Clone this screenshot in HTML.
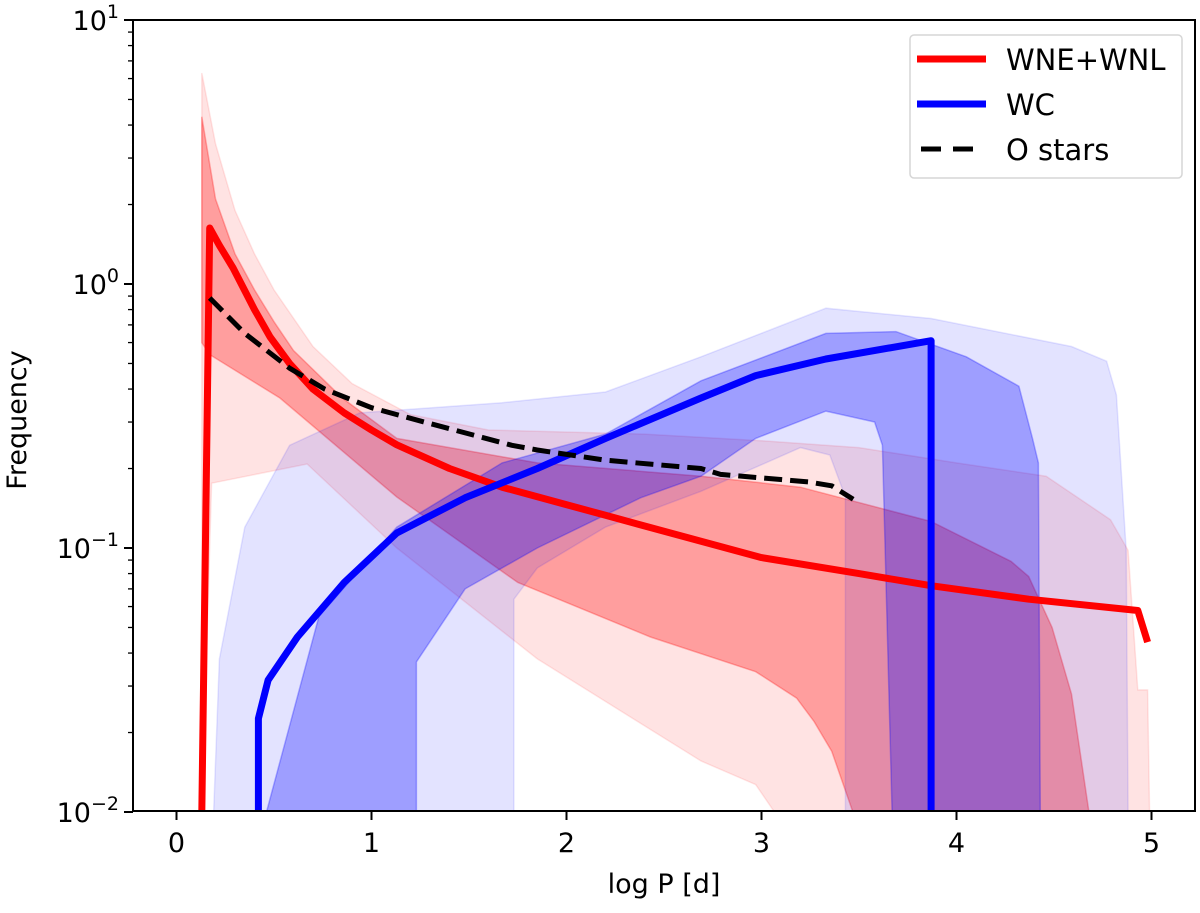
<!DOCTYPE html>
<html><head><meta charset="utf-8"><style>
html,body{margin:0;padding:0;background:#fff;}
svg{display:block;font-family:"DejaVu Sans","Liberation Sans",sans-serif;}
</style></head><body>
<svg id="chart" width="1200" height="913" viewBox="0 0 1200 913" xmlns="http://www.w3.org/2000/svg">
<g id="bands"></g>
<g id="lines"></g>
<g id="axes"></g>
<g id="legend"></g>
</svg>
<script>
const xTicks = [0,1,2,3,4,5];
const yTickExps = [1,0,-1,-2];
const redX = [0.13,0.17,0.22,0.29,0.4,0.48,0.58,0.7,0.86,1.0,1.13,1.4,1.67,2.2,2.69,3.0,3.5,3.87,4.37,4.93,4.98];
const redY = [0.0095,1.63,1.4,1.15,0.8,0.63,0.5,0.4,0.325,0.28,0.246,0.2,0.17,0.133,0.106,0.092,0.08,0.072,0.064,0.058,0.044];
const blueX = [0.42,0.42,0.47,0.62,0.86,1.13,1.48,1.85,2.2,2.69,2.97,3.33,3.87,3.87];
const blueY = [0.0095,0.0226,0.0316,0.046,0.074,0.114,0.155,0.2,0.26,0.37,0.45,0.52,0.61,0.0095];
const oX = [0.17,0.35,0.58,0.76,1.0,1.27,1.72,1.85,2.2,2.69,2.79,3.24,3.36,3.47];
const oY = [0.885,0.65,0.48,0.4,0.34,0.3,0.245,0.235,0.215,0.2,0.19,0.178,0.172,0.153];
// red outer band
const redOutUpX = [0.13,0.2,0.3,0.4,0.5,0.7,0.9,1.2,1.6,2.4,3.0,3.5,4.0,4.46,4.79,4.88,4.93,4.98,4.99];
const redOutUpY = [6.3,3.4,1.9,1.3,0.95,0.58,0.42,0.32,0.28,0.27,0.255,0.24,0.21,0.187,0.128,0.098,0.029,0.029,0.0095];
const redOutLoX = [0.13,0.18,0.67,1.13,1.85,2.69,2.97,3.07];
const redOutLoY = [0.0095,0.176,0.208,0.1,0.038,0.0156,0.0127,0.0095];
// red inner band
const redInUpX = [0.13,0.2,0.3,0.4,0.5,0.6,0.85,1.13,1.85,2.69,3.2,3.87,4.28,4.37,4.49,4.59,4.68];
const redInUpY = [4.3,2.1,1.3,0.95,0.72,0.56,0.37,0.26,0.21,0.187,0.17,0.126,0.089,0.078,0.05,0.028,0.0095];
const redInLoX = [0.13,0.17,0.53,1.13,1.75,2.43,2.97,3.18,3.27,3.36,3.47];
const redInLoY = [0.6,0.54,0.37,0.156,0.074,0.046,0.034,0.027,0.022,0.017,0.0095];
// blue outer band
const blueOutUpX = [0.19,0.22,0.35,0.58,0.94,1.67,2.2,2.69,3.33,3.87,4.59,4.77,4.82,4.87,4.88];
const blueOutUpY = [0.0095,0.038,0.12,0.245,0.325,0.355,0.39,0.53,0.81,0.74,0.58,0.51,0.38,0.098,0.0095];
const blueOutLoX = [1.73,1.73,1.85,2.2,2.69,3.2,3.35,3.43,3.43];
const blueOutLoY = [0.0095,0.064,0.084,0.12,0.164,0.24,0.225,0.156,0.0095];
// blue inner band
const blueInUpX = [0.46,0.73,1.13,1.67,2.2,2.69,3.33,3.69,4.05,4.32,4.39,4.42,4.43];
const blueInUpY = [0.0095,0.055,0.12,0.21,0.27,0.43,0.65,0.66,0.53,0.41,0.26,0.21,0.0095];
const blueInLoX = [1.23,1.23,1.48,1.85,2.38,2.69,2.97,3.33,3.58,3.62,3.67];
const blueInLoY = [0.0095,0.037,0.07,0.1,0.155,0.187,0.26,0.33,0.3,0.245,0.0095];

const L=133, R=1195, T=20, B=811;
const X0=176.5, XU=195;
const Y0=284, YD=264;
function sx(v){return X0+v*XU;}
function sy(v){return Y0-Math.log10(v)*YD;}
const NS="http://www.w3.org/2000/svg";
function mk(tag,parent){const e=document.createElementNS(NS,tag);parent.appendChild(e);return e;}
function pts(xs,ys){return xs.map((x,i)=>sx(x).toFixed(1)+","+Math.min(sy(ys[i]),B+2).toFixed(1));}

const defs=mk('defs',document.getElementById('chart'));
const cp=mk('clipPath',defs);cp.setAttribute('id','clip');
const cr=mk('rect',cp);cr.setAttribute('x',L);cr.setAttribute('y',T);cr.setAttribute('width',R-L);cr.setAttribute('height',B-T);

const bands=document.getElementById('bands');
bands.setAttribute('clip-path','url(#clip)');
function band(upX,upY,loX,loY,color,alpha,name){
  const p=mk('polygon',bands);
  const up=pts(upX,upY), lo=pts(loX,loY).reverse();
  p.setAttribute('points',up.concat(lo).join(' '));
  p.setAttribute('fill',color);p.setAttribute('fill-opacity',alpha);
  p.setAttribute('stroke',color);p.setAttribute('stroke-opacity',alpha*0.9);p.setAttribute('stroke-width',1.5);
  
  
}
band(redOutUpX,redOutUpY,redOutLoX,redOutLoY,'#ff0000',0.11,'wne-outer-band');
band(redInUpX,redInUpY,redInLoX,redInLoY,'#ff0000',0.3,'wne-inner-band');
band(blueOutUpX,blueOutUpY,blueOutLoX,blueOutLoY,'#0000ff',0.11,'wc-outer-band');
band(blueInUpX,blueInUpY,blueInLoX,blueInLoY,'#0000ff',0.3,'wc-inner-band');

const lines=document.getElementById('lines');
lines.setAttribute('clip-path','url(#clip)');
function line(xs,ys,color,w,dash,name){
  const p=mk('polyline',lines);
  p.setAttribute('points',pts(xs,ys).join(' '));
  p.setAttribute('fill','none');p.setAttribute('stroke',color);p.setAttribute('stroke-width',w);
  p.setAttribute('stroke-linejoin','round');
  if(dash)p.setAttribute('stroke-dasharray',dash);
  
  
}
line(redX,redY,'#ff0000',7,null,'wne-wnl-line');
line(blueX,blueY,'#0000ff',7,null,'wc-line');
line(oX,oY,'#000000',5,'18,8','o-stars-line');

const ax=document.getElementById('axes');
const fr=mk('rect',ax);fr.setAttribute('x',L);fr.setAttribute('y',T);fr.setAttribute('width',R-L);fr.setAttribute('height',B-T);
fr.setAttribute('fill','none');fr.setAttribute('stroke','#000');fr.setAttribute('stroke-width',2);


xTicks.forEach(v=>{
  const x=sx(v);
  const t=mk('line',ax);t.setAttribute('x1',x);t.setAttribute('x2',x);t.setAttribute('y1',B);t.setAttribute('y2',B+9);t.setAttribute('stroke','#000');t.setAttribute('stroke-width',2);
  
  
  const tx=mk('text',ax);tx.setAttribute('x',x);tx.setAttribute('y',B+41);tx.setAttribute('text-anchor','middle');tx.setAttribute('font-size',27);tx.textContent=v;
  
  
});
yTickExps.forEach(e=>{
  const y=sy(Math.pow(10,e));
  const t=mk('line',ax);t.setAttribute('x1',L-9);t.setAttribute('x2',L);t.setAttribute('y1',y);t.setAttribute('y2',y);t.setAttribute('stroke','#000');t.setAttribute('stroke-width',2);
  
  
  const tx=mk('text',ax);tx.setAttribute('x',L-14);tx.setAttribute('y',y+10);tx.setAttribute('text-anchor','end');tx.setAttribute('font-size',27);
  tx.innerHTML='10<tspan dy="-12" font-size="19">'+(e<0?'\u2212'+(-e):e)+'</tspan>';
  
  
  if(e>-2){for(let m=2;m<=9;m++){
    const my=sy(m*Math.pow(10,e-1));
    const mt=mk('line',ax);mt.setAttribute('x1',L-5);mt.setAttribute('x2',L);mt.setAttribute('y1',my);mt.setAttribute('y2',my);mt.setAttribute('stroke','#000');mt.setAttribute('stroke-width',1.3);
    
    
  }}
});
const xl=mk('text',ax);xl.setAttribute('x',(L+R)/2);xl.setAttribute('y',893);xl.setAttribute('text-anchor','middle');xl.setAttribute('font-size',27);xl.textContent='log P [d]';


const yl=mk('text',ax);yl.setAttribute('transform','translate(26,420) rotate(-90)');yl.setAttribute('text-anchor','middle');yl.setAttribute('font-size',27);yl.textContent='Frequency';



const lg=document.getElementById('legend');
const lb=mk('rect',lg);lb.setAttribute('x',910);lb.setAttribute('y',35);lb.setAttribute('width',272);lb.setAttribute('height',143);lb.setAttribute('rx',4);
lb.setAttribute('fill','#fff');lb.setAttribute('fill-opacity',0.85);lb.setAttribute('stroke','#d6d6d6');lb.setAttribute('stroke-width',1.5);


const legNames=['WNE+WNL','WC','O stars'];
const legColors=['#ff0000','#0000ff','#000000'];
const legYs=[59,104,149];
legNames.forEach((n,i)=>{
  const l=mk('line',lg);l.setAttribute('x1',917);l.setAttribute('x2',986);l.setAttribute('y1',legYs[i]);l.setAttribute('y2',legYs[i]);
  l.setAttribute('stroke',legColors[i]);l.setAttribute('stroke-width',i==2?5:7);
  if(i==2){l.setAttribute('x1',921);l.setAttribute('x2',975);l.setAttribute('stroke-dasharray','20,12');}
  
  
  const t=mk('text',lg);t.setAttribute('x',1006);t.setAttribute('y',legYs[i]+11);t.setAttribute('font-size',29);t.textContent=n;
  
  
});
</script>
</body></html>
